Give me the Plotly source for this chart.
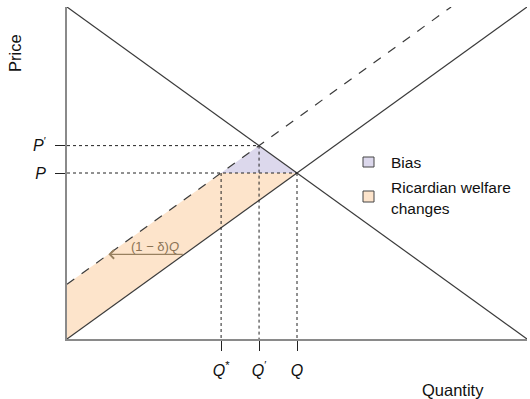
import plotly.graph_objects as go

# Market model: linear demand, supply, and supply shifted up by delta-cost
q_range = [0, 10]
demand_price = [10, 0]          # P = 10 - Q
supply_price = [0, 10]          # P = Q
supply_shift = 1.65             # vertical shift of the dashed supply curve
price_top = 10

# Equilibria
Q_eq = 5.0
P_eq = 5.0
Q_prime = (price_top - supply_shift) / 2
P_prime = price_top - Q_prime
Q_star = P_eq - supply_shift

x_tick_vals = [Q_star, Q_prime, Q_eq]
x_tick_text = ["<i>Q</i><sup>*</sup>", "<i>Q</i><sup>′</sup>", "<i>Q</i>"]
y_tick_vals = [P_eq, P_prime]
y_tick_text = ["<i>P</i>", "<i>P</i><sup>′</sup>"]

arrow_price = 2.55
legend_labels = ["Bias", "Ricardian welfare", "changes"]

fill_orange = "#FDE4CB"
fill_purple = "#DCD8EC"
line_col = "#3a3a3a"
brown = "#98805f"
font_family = "Liberation Sans"

fig = go.Figure()

# Ricardian welfare changes: band between supply and shifted supply below P
fig.add_trace(go.Scatter(
    x=[0, 0, Q_star, Q_eq, 0], y=[0, supply_shift, P_eq, P_eq, 0],
    fill="toself", fillcolor=fill_orange, line=dict(width=0),
    mode="lines", hoverinfo="skip", showlegend=False))

# Bias triangle
fig.add_trace(go.Scatter(
    x=[Q_star, Q_prime, Q_eq, Q_star], y=[P_eq, P_prime, P_eq, P_eq],
    fill="toself", fillcolor=fill_purple, line=dict(width=0),
    mode="lines", hoverinfo="skip", showlegend=False))

# Demand
fig.add_trace(go.Scatter(x=q_range, y=demand_price, mode="lines",
                         line=dict(color=line_col, width=1.2), showlegend=False))
# Supply
fig.add_trace(go.Scatter(x=q_range, y=supply_price, mode="lines",
                         line=dict(color=line_col, width=1.2), showlegend=False))
# Shifted supply (dashed)
fig.add_trace(go.Scatter(x=[0, price_top - supply_shift], y=[supply_shift, price_top],
                         mode="lines", line=dict(color=line_col, width=1.2, dash="dash"),
                         showlegend=False))

# Dotted guide lines
dot = dict(color="#222", width=1, dash="dot")
fig.add_trace(go.Scatter(x=[0, Q_prime], y=[P_prime, P_prime], mode="lines", line=dot, showlegend=False))
fig.add_trace(go.Scatter(x=[0, Q_eq], y=[P_eq, P_eq], mode="lines", line=dot, showlegend=False))
fig.add_trace(go.Scatter(x=[Q_star, Q_star], y=[P_eq, 0], mode="lines", line=dot, showlegend=False))
fig.add_trace(go.Scatter(x=[Q_prime, Q_prime], y=[P_prime, 0], mode="lines", line=dot, showlegend=False))
fig.add_trace(go.Scatter(x=[Q_eq, Q_eq], y=[P_eq, 0], mode="lines", line=dot, showlegend=False))

# (1-δ)Q arrow from supply to shifted supply
fig.add_annotation(x=arrow_price - supply_shift, y=arrow_price,
                   ax=arrow_price, ay=arrow_price, axref="x", ayref="y",
                   xref="x", yref="y", text="", showarrow=True,
                   arrowhead=4, arrowsize=1.2, arrowwidth=1.4, arrowcolor=brown)
fig.add_annotation(x=1.91, y=2.8, xref="x", yref="y", text="(1 − δ)<i>Q</i>",
                   showarrow=False, xanchor="center", yanchor="middle",
                   font=dict(size=13, color="#8a7254", family=font_family))

# Legend
fig.add_shape(type="rect", xref="paper", yref="paper",
              x0=(363 - 67) / 460, x1=(374 - 67) / 460,
              y0=(339 - 167) / 332, y1=(339 - 157) / 332,
              fillcolor=fill_purple, line=dict(color="#444", width=1))
fig.add_shape(type="rect", xref="paper", yref="paper",
              x0=(363 - 67) / 460, x1=(374 - 67) / 460,
              y0=(339 - 202) / 332, y1=(339 - 191) / 332,
              fillcolor=fill_orange, line=dict(color="#444", width=1))
for label, py in zip(legend_labels, [162, 187, 208]):
    fig.add_annotation(x=(389 - 67) / 460, y=(339 - py) / 332, xref="paper", yref="paper",
                       text=label, showarrow=False, xanchor="left", yanchor="middle",
                       font=dict(size=15.5, color="#111", family=font_family))

# Axis titles
fig.add_annotation(x=-52 / 460, y=(339 - 53) / 332, xref="paper", yref="paper",
                   text="Price", textangle=-90, showarrow=False,
                   xanchor="center", yanchor="middle",
                   font=dict(size=16.5, color="#111", family=font_family))
fig.add_annotation(x=(453 - 67) / 460, y=(339 - 390) / 332, xref="paper", yref="paper",
                   text="Quantity", showarrow=False,
                   xanchor="center", yanchor="middle",
                   font=dict(size=16.5, color="#111", family=font_family))

fig.update_xaxes(range=q_range, showgrid=False, zeroline=False, showline=True,
                 linecolor="#8a8a8a", linewidth=2,
                 tickvals=x_tick_vals, ticktext=x_tick_text, ticks="outside",
                 ticklen=10, tickwidth=1, tickcolor="#222", ticklabelstandoff=6,
                 tickfont=dict(size=16, color="#111", family=font_family))
fig.update_yaxes(range=[0, price_top], showgrid=False, zeroline=False, showline=True,
                 linecolor="#8a8a8a", linewidth=2,
                 tickvals=y_tick_vals, ticktext=y_tick_text, ticks="outside",
                 ticklen=10, tickwidth=1, tickcolor="#222", ticklabelstandoff=6,
                 tickfont=dict(size=16, color="#111", family=font_family))

fig.update_layout(width=530, height=399, margin=dict(l=67, r=3, t=7, b=60),
                  plot_bgcolor="white", paper_bgcolor="white", showlegend=False)

fig.write_html("out.html")
